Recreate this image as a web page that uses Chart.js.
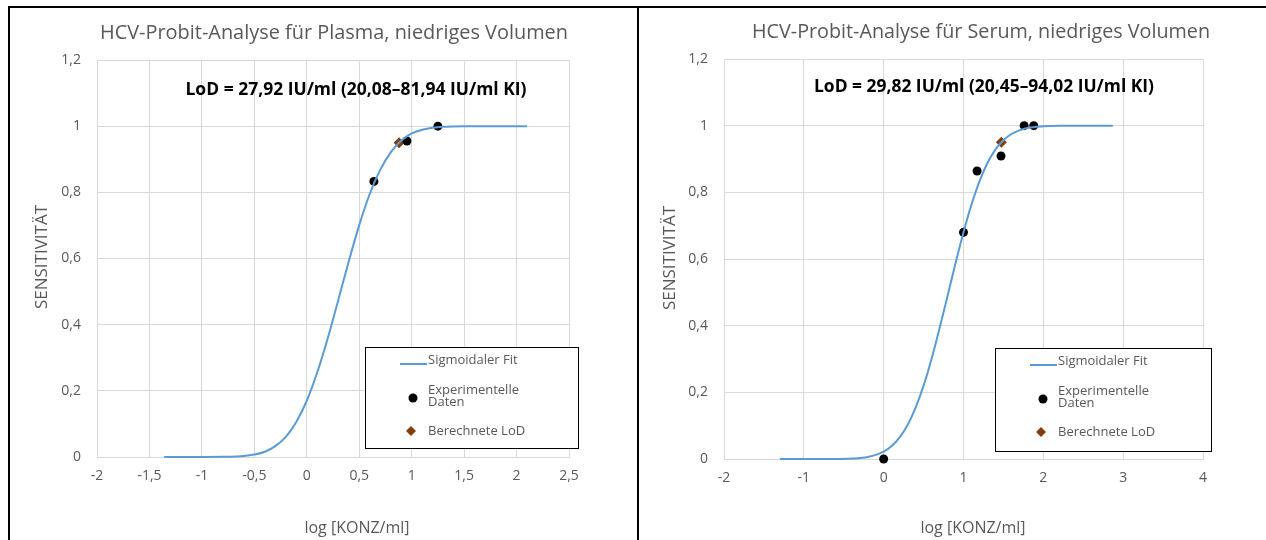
<!DOCTYPE html>
<html lang="de">
<head>
<meta charset="utf-8">
<title>HCV-Probit-Analyse, niedriges Volumen</title>
<script src="https://cdn.jsdelivr.net/npm/chart.js@4.4.1/dist/chart.umd.min.js"></script>
<style>
  html, body { margin: 0; padding: 0; background: #fff; }
  body { width: 1266px; height: 540px; position: relative; overflow: hidden; }
  .frame { position: absolute; background: #000; }
  .panel { position: absolute; top: 8px; height: 532px; }
  #panelPlasma { left: 10px; width: 627px; }
  #panelSerum { left: 640px; width: 626px; }
</style>
</head>
<body>
<div class="frame" style="left:8px;top:6px;width:1258px;height:2px"></div>
<div class="frame" style="left:8px;top:6px;width:2px;height:534px"></div>
<div class="frame" style="left:637px;top:6px;width:2px;height:534px"></div>
<div class="panel" id="panelPlasma"><canvas id="chartPlasma"></canvas></div>
<div class="panel" id="panelSerum"><canvas id="chartSerum"></canvas></div>

<script>
/* ============================================================
   HCV Probit-Analyse — Plasma / Serum, niedriges Volumen
   ============================================================ */

// Achsen
const yTicks = [0, 0.2, 0.4, 0.6, 0.8, 1, 1.2];
const plasmaXTicks = [-2, -1.5, -1, -0.5, 0, 0.5, 1, 1.5, 2, 2.5];
const serumXTicks = [-2, -1, 0, 1, 2, 3, 4];

// Plasma: sigmoidaler Fit
const plasmaFitX = [-1.36, -1.0, -0.8, -0.6, -0.5, -0.4, -0.3, -0.2, -0.1, 0, 0.1, 0.2, 0.3, 0.4, 0.5, 0.6, 0.7, 0.8, 0.9, 1.0, 1.1, 1.2, 1.3, 1.5, 1.7, 2.1];
const plasmaFitY = [0, 0.0001, 0.0005, 0.003, 0.0075, 0.016, 0.033, 0.061, 0.106, 0.17, 0.256, 0.359, 0.474, 0.591, 0.701, 0.795, 0.868, 0.921, 0.956, 0.978, 0.989, 0.995, 0.998, 0.9998, 1, 1];
// Plasma: Messpunkte + LoD
const plasmaExpX = [0.64, 0.955, 1.25];
const plasmaExpY = [0.833, 0.955, 1.0];
const plasmaLodX = [0.88];
const plasmaLodY = [0.95];

// Serum: sigmoidaler Fit
const serumFitX = [-1.3, -0.8, -0.6, -0.4, -0.2, 0, 0.1, 0.2, 0.3, 0.4, 0.5, 0.6, 0.7, 0.8, 0.9, 1.0, 1.1, 1.2, 1.3, 1.4, 1.5, 1.6, 1.7, 1.8, 2.0, 2.2, 2.5, 2.87];
const serumFitY = [0, 0.0001, 0.0002, 0.0013, 0.006, 0.022, 0.039, 0.065, 0.102, 0.154, 0.22, 0.3, 0.392, 0.489, 0.587, 0.68, 0.763, 0.833, 0.888, 0.928, 0.956, 0.975, 0.986, 0.993, 0.998, 0.9997, 1, 1];
// Serum: Messpunkte + LoD
const serumExpX = [0, 1.0, 1.17, 1.47, 1.76, 1.88];
const serumExpY = [0, 0.68, 0.864, 0.909, 1.0, 1.0];
const serumLodX = [1.4745];
const serumLodY = [0.95];

const FONT = "'Open Sans', sans-serif";

const ChartColors = {
  fit: '#5B9BD5',
  points: '#000000',
  lod: '#843C0C',
  text: '#595959',
  grid: '#D9D9D9',
};

Chart.defaults.font.family = FONT;
Chart.defaults.color = ChartColors.text;

const toPoints = (xs, ys) => xs.map((x, i) => ({ x, y: ys[i] }));
const fmt = (v) => String(v).replace('.', ',');

/* ── Titel, Achsentitel, LoD-Text und Legende ─────────────── */
const panelText = {
  id: 'panelText',
  afterDraw(chart, args, o) {
    const { ctx } = chart;
    const ds = chart.data.datasets;
    ctx.save();
    ctx.textAlign = 'center';
    ctx.textBaseline = 'middle';

    ctx.fillStyle = ChartColors.text;
    ctx.font = `20px ${FONT}`;
    ctx.fillText(o.title, o.titleX, o.titleY, o.titleW);

    ctx.fillStyle = '#000';
    ctx.font = `bold 17.5px ${FONT}`;
    ctx.fillText(o.lod, o.lodX, o.lodY, o.lodW);

    ctx.fillStyle = ChartColors.text;
    ctx.font = `16px ${FONT}`;
    ctx.fillText('log [KONZ/ml]', o.xTitleX, o.xTitleY);

    ctx.save();
    ctx.translate(o.yTitleX, o.yTitleY);
    ctx.rotate(-Math.PI / 2);
    ctx.font = `17px ${FONT}`;
    ctx.fillText('SENSITIVITÄT', 0, 0);
    ctx.restore();

    // Legende
    const L = o.legend;
    ctx.fillStyle = '#fff';
    ctx.fillRect(L.x, L.y, L.w, L.h);
    ctx.strokeStyle = '#000';
    ctx.lineWidth = 1;
    ctx.strokeRect(L.x + 0.5, L.y + 0.5, L.w, L.h);

    ctx.strokeStyle = ds[0].borderColor;
    ctx.lineWidth = 2;
    ctx.beginPath();
    ctx.moveTo(L.x + 35, L.y + 17);
    ctx.lineTo(L.x + 62, L.y + 17);
    ctx.stroke();

    ctx.fillStyle = ds[1].backgroundColor;
    ctx.beginPath();
    ctx.arc(L.x + 48, L.y + 51, 4.5, 0, Math.PI * 2);
    ctx.fill();

    ctx.fillStyle = ds[2].backgroundColor;
    ctx.beginPath();
    ctx.moveTo(L.x + 46, L.y + 79);
    ctx.lineTo(L.x + 51, L.y + 84);
    ctx.lineTo(L.x + 46, L.y + 89);
    ctx.lineTo(L.x + 41, L.y + 84);
    ctx.closePath();
    ctx.fill();

    ctx.fillStyle = ChartColors.text;
    ctx.textAlign = 'left';
    ctx.font = `13px ${FONT}`;
    ctx.fillText('Sigmoidaler Fit', L.x + 63, L.y + 13);
    ctx.fillText('Experimentelle', L.x + 63, L.y + 43);
    ctx.fillText('Daten', L.x + 63, L.y + 55);
    ctx.fillText('Berechnete LoD', L.x + 63, L.y + 84);
    ctx.restore();
  },
};

/* ── Gemeinsame Optionen ──────────────────────────────────── */
function axisOptions(ticks, min, max, fitSize, horizontal) {
  return {
    type: 'linear',
    min,
    max,
    afterBuildTicks: (scale) => { scale.ticks = ticks.map(value => ({ value })); },
    afterFit: (scale) => {
      if (horizontal) scale.height = fitSize; else scale.width = fitSize;
    },
    ticks: {
      autoSkip: false,
      maxRotation: 0,
      padding: horizontal ? 11 : 16,
      color: ChartColors.text,
      font: { size: 14, family: FONT },
      callback: fmt,
    },
    grid: { color: ChartColors.grid, lineWidth: 1, drawTicks: false },
    border: { display: horizontal, color: ChartColors.grid },
  };
}

function renderProbitChart(id, fit, exp, lod, xTicks, xMin, xMax, layout, text) {
  const ctx = document.getElementById(id);
  return new Chart(ctx, {
    type: 'scatter',
    data: {
      datasets: [{
        label: 'Sigmoidaler Fit',
        data: fit,
        showLine: true,
        borderColor: ChartColors.fit,
        backgroundColor: ChartColors.fit,
        borderWidth: 2,
        pointRadius: 0,
        cubicInterpolationMode: 'monotone',
        clip: false,
      }, {
        label: 'Experimentelle Daten',
        data: exp,
        pointStyle: 'circle',
        pointRadius: 4.5,
        backgroundColor: ChartColors.points,
        borderColor: ChartColors.points,
        borderWidth: 0,
        clip: false,
      }, {
        label: 'Berechnete LoD',
        data: lod,
        pointStyle: 'rectRot',
        pointRadius: 5.5,
        backgroundColor: ChartColors.lod,
        borderColor: ChartColors.lod,
        borderWidth: 0,
        clip: false,
      }],
    },
    options: {
      responsive: true,
      maintainAspectRatio: false,
      animation: false,
      devicePixelRatio: 1,
      events: [],
      layout: { padding: { left: 0, right: layout.right, top: layout.top, bottom: 0 } },
      plugins: {
        legend: { display: false },
        tooltip: { enabled: false },
        panelText: text,
      },
      scales: {
        x: axisOptions(xTicks, xMin, xMax, layout.bottom, true),
        y: axisOptions(yTicks, 0, 1.2, layout.left, false),
      },
    },
    plugins: [panelText],
  });
}

/* ── Plasma ───────────────────────────────────────────────── */
renderProbitChart(
  'chartPlasma',
  toPoints(plasmaFitX, plasmaFitY),
  toPoints(plasmaExpX, plasmaExpY),
  toPoints(plasmaLodX, plasmaLodY),
  plasmaXTicks, -2, 2.5,
  { left: 87, right: 68, top: 52, bottom: 83 },
  {
    title: 'HCV-Probit-Analyse für Plasma, niedriges Volumen',
    titleX: 324, titleY: 25, titleW: 468,
    lod: 'LoD = 27,92 IU/ml (20,08–81,94 IU/ml KI)',
    lodX: 346, lodY: 82, lodW: 341,
    xTitleX: 347, xTitleY: 520,
    yTitleX: 32, yTitleY: 249,
    legend: { x: 355, y: 339, w: 213, h: 101 },
  }
);

/* ── Serum ────────────────────────────────────────────────── */
renderProbitChart(
  'chartSerum',
  toPoints(serumFitX, serumFitY),
  toPoints(serumExpX, serumExpY),
  toPoints(serumLodX, serumLodY),
  serumXTicks, -2, 4,
  { left: 84, right: 63, top: 51, bottom: 81 },
  {
    title: 'HCV-Probit-Analyse für Serum, niedriges Volumen',
    titleX: 341, titleY: 24, titleW: 458,
    lod: 'LoD = 29,82 IU/ml (20,45–94,02 IU/ml KI)',
    lodX: 344, lodY: 79, lodW: 340,
    xTitleX: 333, xTitleY: 520,
    yTitleX: 30, yTitleY: 250,
    legend: { x: 355, y: 340, w: 216, h: 103 },
  }
);
</script>
</body>
</html>
